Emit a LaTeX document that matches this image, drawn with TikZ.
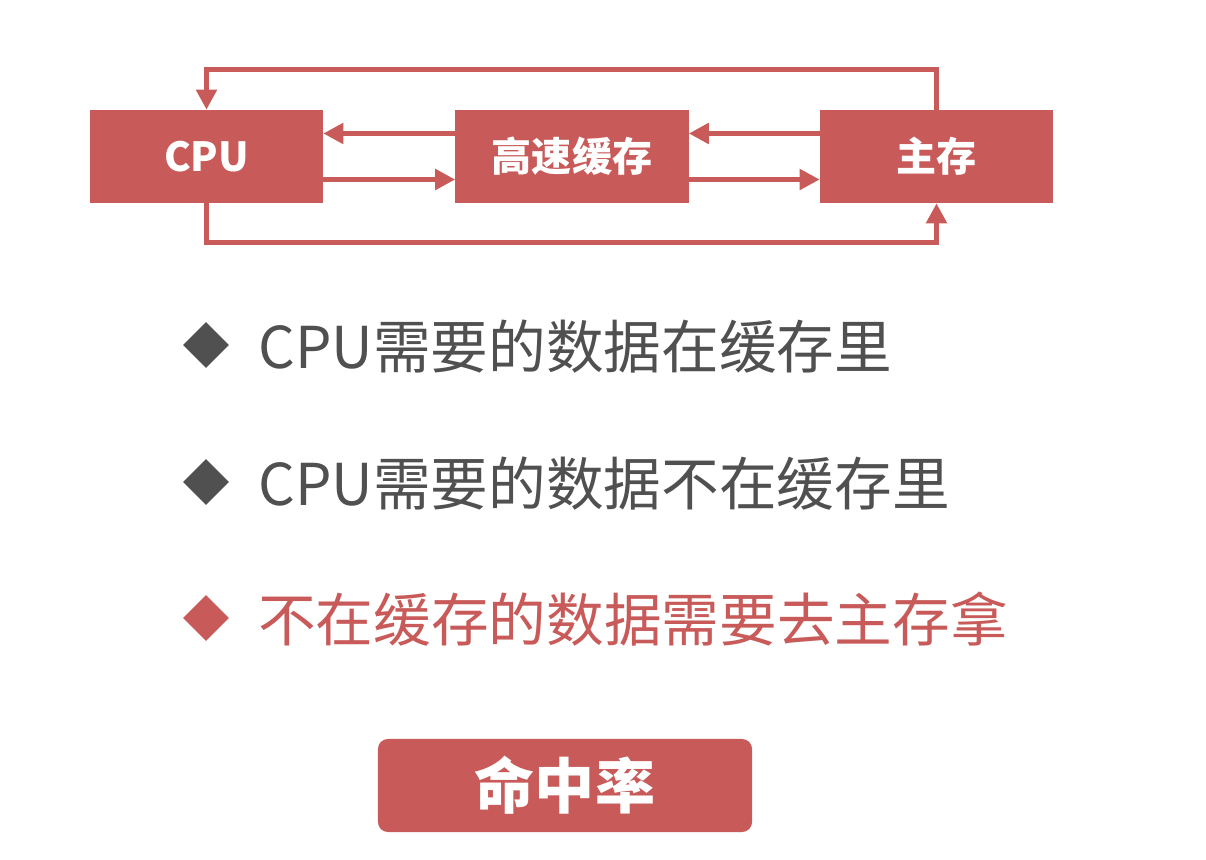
\documentclass[tikz,border=0pt]{standalone}
\usepackage{fontspec}
\setmainfont{Noto Sans CJK SC}
\usetikzlibrary{arrows.meta,shapes.geometric}
\definecolor{boxred}{RGB}{200,91,89}
\definecolor{textgray}{RGB}{80,80,80}
\begin{document}
\begin{tikzpicture}[x=0.025cm, y=-0.025cm,
    unit/.style={fill=boxred, text=white, minimum width=5.825cm, minimum height=2.325cm, inner sep=0pt, font=\fontsize{28.5}{30}\selectfont\bfseries},
    flow/.style={draw=boxred, line width=3.8pt, -{Triangle[length=0.5cm, width=0.5cm]}},
    bullet/.style={diamond, fill=textgray, minimum size=1.15cm, inner sep=0pt},
    item/.style={anchor=west, inner sep=0pt, text=textgray, font=\fontsize{41}{49}\selectfont}]
    \useasboundingbox (0, 0) rectangle (1206, 860);
    \fill[white] (0, 0) rectangle (1206, 860);
    \node[unit] (cpu) at (206.5, 156.5) {CPU};
    \node[unit] (cache) at (572, 156.5) {高速缓存};
    \node[unit] (mem) at (936.5, 156.5) {主存};
    \draw[flow] ([yshift=0.575cm]cache.west) -- ([yshift=0.575cm]cpu.east);
    \draw[flow] ([yshift=-0.575cm]cpu.east) -- ([yshift=-0.575cm]cache.west);
    \draw[flow] ([yshift=0.575cm]mem.west) -- ([yshift=0.575cm]cache.east);
    \draw[flow] ([yshift=-0.575cm]cache.east) -- ([yshift=-0.575cm]mem.west);
    \draw[flow] (mem.north) -- ++(0, -40) -| (cpu.north);
    \draw[flow] (cpu.south) -- ++(0, 39) -| (mem.south);
    \node[bullet] (b1) at (206, 345) {};
    \node[bullet] (b2) at (206, 482) {};
    \node[bullet, fill=boxred] (b3) at (206, 618) {};
    \node[item] (t1) at (258, 347) {CPU需要的数据在缓存里};
    \node[item] (t2) at (258, 484) {CPU需要的数据不在缓存里};
    \node[item, text=boxred] (t3) at (258, 619) {不在缓存的数据需要去主存拿};
    \node[fill=boxred, text=white, rounded corners=0.25cm, minimum width=9.35cm, minimum height=2.325cm, font=\fontsize{42.7}{46}\selectfont\bfseries] (rate) at (565, 785.5) {命中率};
\end{tikzpicture}
\end{document}
